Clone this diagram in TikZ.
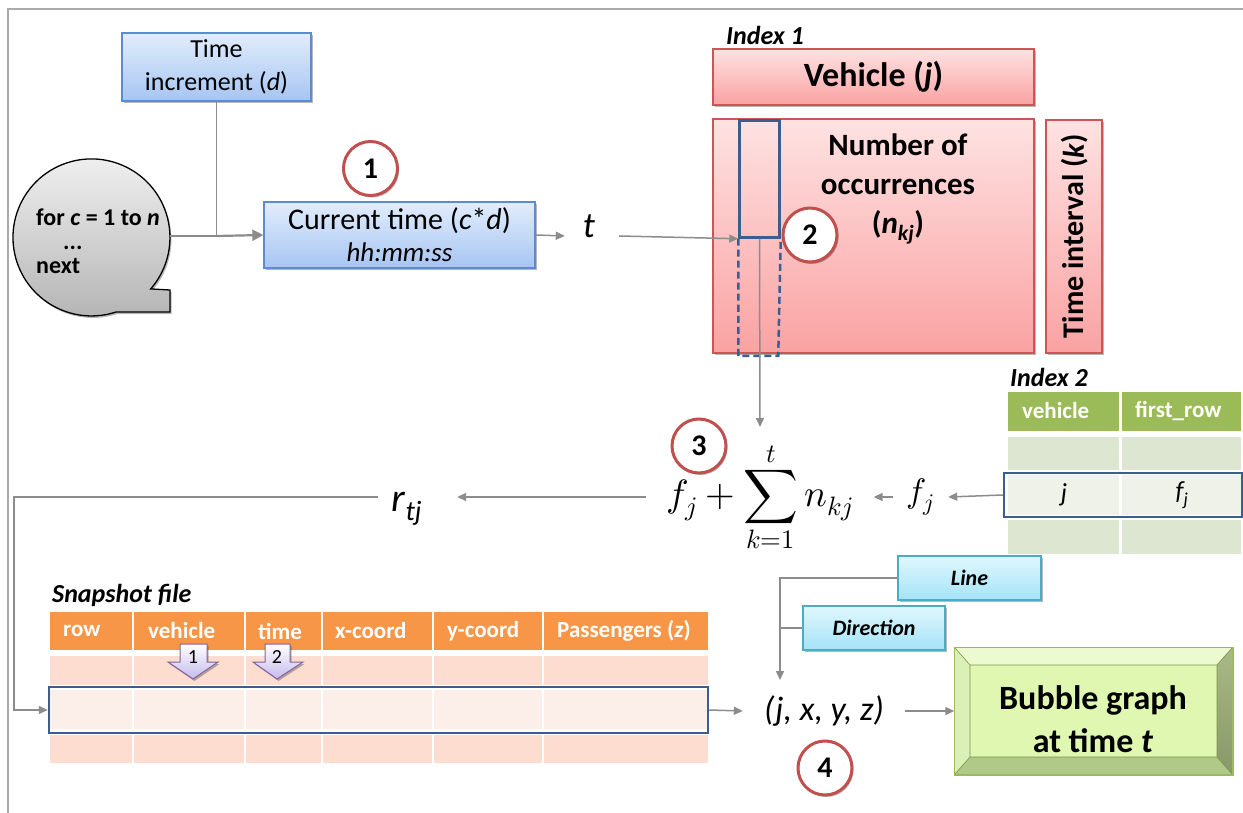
\documentclass[tikz,border=0pt]{standalone}
\usepackage{fontspec}
\usepackage{unicode-math}
\setmainfont{Carlito}
\setmathfont{Latin Modern Math}
\usetikzlibrary{arrows.meta,shadows}
\definecolor{lineg}{RGB}{140,140,140}
\definecolor{framec}{RGB}{170,170,170}
\definecolor{bluetop}{RGB}{226,237,252}
\definecolor{bluebot}{RGB}{166,197,242}
\definecolor{blueedge}{RGB}{90,140,210}
\definecolor{redtop}{RGB}{254,226,226}
\definecolor{redbot}{RGB}{250,162,162}
\definecolor{rededge}{RGB}{205,85,85}
\definecolor{circedge}{RGB}{192,80,77}
\definecolor{selblue}{RGB}{59,94,145}
\definecolor{greenhead}{RGB}{155,187,89}
\definecolor{greenrow}{RGB}{221,230,209}
\definecolor{greenhl}{RGB}{239,242,233}
\definecolor{orangehead}{RGB}{247,150,70}
\definecolor{orangerow}{RGB}{252,221,208}
\definecolor{orangehl}{RGB}{252,239,234}
\definecolor{cyantop}{RGB}{224,247,253}
\definecolor{cyanbot}{RGB}{165,227,247}
\definecolor{cyanedge}{RGB}{75,172,198}
\definecolor{purpfill}{RGB}{198,186,238}
\definecolor{purpedge}{RGB}{128,100,162}
\definecolor{bubface}{RGB}{223,247,176}
\definecolor{bubtop}{RGB}{236,250,208}
\definecolor{bubleft}{RGB}{218,240,184}
\definecolor{bubbot}{RGB}{176,200,136}
\definecolor{bubrighttop}{RGB}{168,186,132}
\definecolor{bubrightbot}{RGB}{136,152,106}
\definecolor{bubedge}{RGB}{155,187,89}
\definecolor{looptop}{RGB}{242,242,242}
\definecolor{loopbot}{RGB}{178,178,178}
\newcommand{\fsz}[2]{\fontsize{#1}{#2}\selectfont}
\begin{document}
\begin{tikzpicture}[x=1pt,y=-1pt,
  conn/.style={draw=lineg, line width=1.5pt},
  arr/.style={conn, -{Triangle[length=9pt,width=8pt]}},
  shad/.style={drop shadow={shadow xshift=1.5pt,shadow yshift=-2pt,opacity=0.28,fill=black}},
  bluebox/.style={draw=blueedge, line width=1.3pt, top color=bluetop, bottom color=bluebot, shad, align=center, inner sep=0pt},
  redbox/.style={draw=rededge, line width=1.3pt, top color=redtop, bottom color=redbot, shad, inner sep=0pt},
  cyanbox/.style={draw=cyanedge, line width=1.3pt, top color=cyantop, bottom color=cyanbot, shad, inner sep=0pt, font=\fsz{22}{26}\bfseries\itshape},
  numcirc/.style={circle, draw=circedge, line width=3pt, fill=white, minimum size=54pt, inner sep=0pt, font=\fsz{30}{30}\bfseries, shad},
  selbox/.style={draw=selblue, line width=2.5pt, inner sep=0pt},
  hdr/.style={anchor=west, text=white, font=\fsz{23}{26}\bfseries, inner sep=0pt},
  lbl/.style={anchor=west, font=\fsz{26}{30}\bfseries\itshape, inner sep=0pt},
  parrow/.style={draw=purpedge, line width=1pt, top color=white, bottom color=purpfill, shad}
]
\useasboundingbox (0,0) rectangle (1243,813);
% frame
\draw[framec, line width=1.5pt] (8,813) -- (8,9) -- (1243,9);

% loop shape
\draw[black, line width=1.3pt, top color=looptop, bottom color=loopbot, shad]
  (116,312) arc[start angle=71.8, end angle=401, radius=78.5] -- (170,290) -- (170,312) -- cycle;
\node[font=\fsz{24}{24}\bfseries, align=left, anchor=west, inner sep=0pt] (looptxt) at (36,241)
  {for \textit{c} = 1 to \textit{n}\\\hspace*{27pt}...\\next};
\coordinate (loopE) at (170,236);

% time boxes
\node[bluebox, minimum width=189pt, minimum height=68pt, font=\fsz{26}{33}] (tinc) at (216.5,67) {Time\\increment (\textit{d})};
\node[bluebox, minimum width=271pt, minimum height=66pt, font=\fsz{30}{32}] (ctime) at (399.5,235)
  {Current time (\textit{c}*\textit{d})\\{\fsz{27}{32}\itshape hh:mm:ss}};
\coordinate (jn) at (216.5,236);
\draw[conn] (tinc.south) -- (jn);
\draw[conn] (loopE) -- (jn);
\draw[conn, line width=2.2pt, -{Triangle[length=11pt,width=11pt]}] (jn) -- (ctime.west);
\node[numcirc] (c1) at (370.5,168.5) {1};

\node[font=\fsz{36}{36}\itshape, minimum width=54pt, inner sep=0pt, text height=22pt, text depth=18pt] (tlab) at (592,236) {\hspace*{-6pt}t};
\draw[arr] (ctime.east) -- (tlab.west);

% index 1
\node[lbl] (idx1) at (726,35) {Index 1};
\node[redbox, minimum width=321pt, minimum height=56pt, font=\fsz{34}{40}\bfseries] (veh) at (873.5,77) {Vehicle (\textit{j})};
\node[redbox, minimum width=321pt, minimum height=234pt] (occ) at (873.5,236) {};
\node[font=\fsz{31}{39}\bfseries, align=center, inner sep=0pt] (occtxt) at (898,189)
  {Number of\\occurrences\\(\textit{n}\textsubscript{\textit{kj}})};
\node[redbox, minimum width=56pt, minimum height=233pt] (tint) at (1074,236.5) {};
\node[rotate=90, font=\fsz{30}{36}\bfseries, inner sep=0pt] (tinttxt) at (1075,236) {Time interval (\textit{k})};

\node[selbox, minimum width=40pt, minimum height=117pt] (sel) at (759.5,179) {};
\draw[selblue, line width=2.5pt, dash pattern=on 7pt off 4pt] (sel.south west) -- ++(0,117) -- ++(40,0) -- (sel.south east);
\draw[arr] (tlab.east) -- (sel.south west);
\node[numcirc] (c2) at (810,235) {2};

% index 2
\node[lbl] (idx2) at (1010,377) {Index 2};
\foreach \xa/\xb in {1008/1119,1122/1241}{
  \fill[greenhead] (\xa,392) rectangle (\xb,431);
  \fill[greenrow] (\xa,437) rectangle (\xb,470);
  \fill[greenhl] (\xa,475) rectangle (\xb,515);
  \fill[greenrow] (\xa,520) rectangle (\xb,554);
}
\node[hdr] (h2a) at (1022,411) {vehicle};
\node[hdr] (h2b) at (1135,411) {first\_row};
\node[selbox, minimum width=238pt, minimum height=44pt] (irow) at (1123,495) {};
\node[font=\fsz{26}{26}\itshape, inner sep=0pt] (cj) at (1064,495) {j};
\node[font=\fsz{26}{26}\itshape, inner sep=0pt] (cf) at (1182,495) {f\textsubscript{j}};

% formula
\node[font=\fsz{38}{40}, inner xsep=20pt, inner ysep=0pt] (formula) at (760,497) {$\displaystyle f_j + \sum_{k=1}^{t} n_{kj}$};
\node[font=\fsz{34}{34}, minimum width=55pt, inner sep=0pt] (fjlab) at (920.5,497) {$f_j$};
\coordinate (sumtop) at (760,427);
\draw[arr] (sel.south) -- (sumtop);
\draw[arr] (irow.west) -- (fjlab.east);
\draw[arr] (fjlab.west) -- (formula.east);
\node[numcirc] (c3) at (699,446) {3};

\node[font=\fsz{40}{40}\itshape, minimum width=100pt, inner sep=0pt, text height=34pt, text depth=6pt] (rlab) at (407,497) {r\textsubscript{tj}};
\draw[arr] (formula.west) -- (rlab.east);

% snapshot table
\node[lbl] (snap) at (52,595) {Snapshot file};
\foreach \xa/\xb in {50/132,134/244,246/321,323/432,434/542,544/708}{
  \fill[orangehead] (\xa,612) rectangle (\xb,650);
  \fill[orangerow] (\xa,656) rectangle (\xb,685);
  \fill[orangehl] (\xa,690) rectangle (\xb,729);
  \fill[orangerow] (\xa,735) rectangle (\xb,763);
}
\node[hdr] (s1) at (63,631) {row};
\node[hdr] (s2) at (148,631) {vehicle};
\node[hdr] (s3) at (258,631) {time};
\node[hdr] (s4) at (335,631) {x-coord};
\node[hdr] (s5) at (447,631) {y-coord};
\node[hdr] (s6) at (557,631) {Passengers (\textit{z})};
\draw[parrow] (180,644) -- (207,644) -- (207,662) -- (218,662) -- (193,679) -- (168,662) -- (180,662) -- cycle;
\draw[parrow] (265,644) -- (290,644) -- (290,662) -- (303,662) -- (277,679) -- (253,662) -- (265,662) -- cycle;
\node[font=\fsz{20}{20}, inner sep=0pt] (p1) at (193,657) {1};
\node[font=\fsz{20}{20}, inner sep=0pt] (p2) at (277,657) {2};
\node[selbox, minimum width=659pt, minimum height=46pt] (srow) at (378.5,710) {};

\coordinate (lc) at (14,497);
\draw[arr] ([xshift=21pt]rlab.west) -- (lc) |- (srow.west);

% line / direction
\node[cyanbox, minimum width=143pt, minimum height=44pt] (linebox) at (969.5,578) {Line};
\node[cyanbox, minimum width=142pt, minimum height=44pt] (dirbox) at (874,628) {Direction};
\coordinate (tipv) at (780,680);
\draw[arr] (linebox.west) -| (tipv);
\draw[conn] (dirbox.west) -- (dirbox.west -| tipv);

% (j,x,y,z)
\node[font=\fsz{34}{34}\itshape, minimum width=162pt, inner sep=0pt] (jxyz) at (824,711) {(j, x, y, z)};
\draw[arr] (srow.east) -- (jxyz.west);
\node[numcirc] (c4) at (825,768) {4};

% bubble
\node[draw=bubedge, line width=1.5pt, fill=bubface, minimum width=277pt, minimum height=126pt, inner sep=0pt, shad] (bubble) at (1093.5,711) {};
\fill[bubtop] (955,648) -- (1232,648) -- (1217,665) -- (970,665) -- cycle;
\fill[bubleft] (955,648) -- (970,665) -- (970,757) -- (955,774) -- cycle;
\fill[bubbot] (955,774) -- (1232,774) -- (1217,757) -- (970,757) -- cycle;
\shade[top color=bubrighttop, bottom color=bubrightbot] (1232,648) -- (1217,665) -- (1217,757) -- (1232,774) -- cycle;
\draw[bubedge!80!black, line width=0.6pt] (955,648) -- (970,665) -- (1217,665) -- (1232,648) (970,665) -- (970,757) -- (955,774) (970,757) -- (1217,757) -- (1232,774) (1217,665) -- (1217,757);
\draw[bubedge, line width=1.5pt] (bubble.north west) rectangle (bubble.south east);
\node[font=\fsz{34}{43}\bfseries, align=center, inner sep=0pt] (bubtxt) at (1093,719) {Bubble graph\\at time \textit{t}};
\draw[arr] (jxyz.east) -- (bubble.west);
\end{tikzpicture}
\end{document}
